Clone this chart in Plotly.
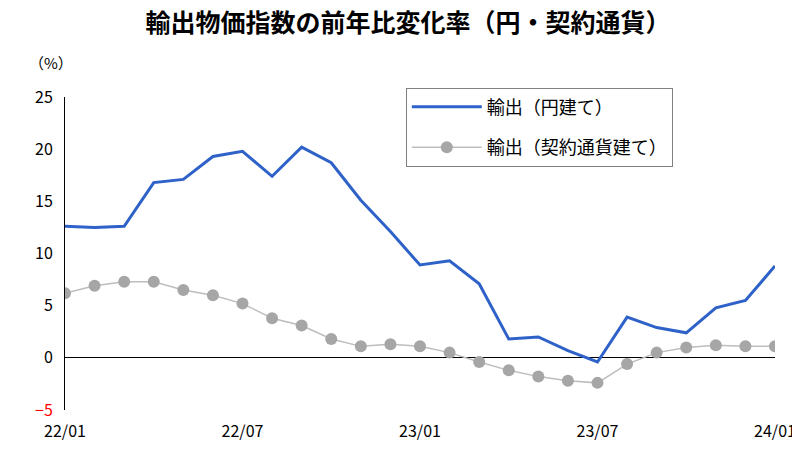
import plotly.graph_objects as go

months = list(range(25))
tick_pos = [0, 6, 12, 18, 24]
tick_text = ["22/01", "22/07", "23/01", "23/07", "24/01"]
y_ticks = [-5, 0, 5, 10, 15, 20, 25]
y_text = ["<span style='color:red'>−5</span>", "0", "5", "10", "15", "20", "25"]

yen_based = [12.6, 12.5, 12.6, 16.8, 17.1, 19.3, 19.8, 17.4, 20.2, 18.7, 15.1, 12.1,
             8.9, 9.3, 7.1, 1.8, 2.0, 0.7, -0.4, 3.9, 2.9, 2.4, 4.8, 5.5, 8.8]
contract_based = [6.2, 6.9, 7.3, 7.3, 6.5, 6.0, 5.2, 3.8, 3.1, 1.8, 1.1, 1.3,
                  1.1, 0.5, -0.4, -1.2, -1.8, -2.2, -2.4, -0.6, 0.5, 1.0, 1.2, 1.1, 1.1]

font = "Noto Sans CJK JP"

fig = go.Figure()
fig.add_trace(go.Scatter(x=months, y=yen_based, name="輸出（円建て）", mode="lines",
                         legendgroup="a", line=dict(color="#2f62c8", width=3)))
fig.add_trace(go.Scatter(x=months, y=contract_based, name="輸出（契約通貨建て）", mode="lines+markers",
                         legendgroup="b", line=dict(color="#bdbdbd", width=1.5),
                         marker=dict(color="#a6a6a6", size=12)))

fig.update_layout(
    width=800, height=450,
    margin=dict(l=57, r=30, t=89, b=48),
    paper_bgcolor="white", plot_bgcolor="white",
    font=dict(family=font, size=16, color="black"),
    title=dict(text="<b>輸出物価指数の前年比変化率（円・契約通貨）</b>", x=0.5, xanchor="center",
               y=0.985, yanchor="top", font=dict(size=25)),
    legend=dict(x=0.48, xanchor="left", y=1.03, yanchor="top", bordercolor="#808080", borderwidth=1,
                bgcolor="white", font=dict(size=18), tracegroupgap=14, itemwidth=70),
    xaxis=dict(range=[0, 24], tickvals=tick_pos, ticktext=tick_text, showgrid=False,
               zeroline=False, showline=False, tickfont=dict(size=16), ticklabelstandoff=10),
    yaxis=dict(range=[-5, 25], tickvals=y_ticks, ticktext=y_text, showgrid=False, zeroline=True,
               zerolinecolor="black", zerolinewidth=1, showline=True, linecolor="black",
               ticks="", ticklabelstandoff=8, tickfont=dict(size=16)),
    annotations=[dict(text="（%）", x=-0.02, xref="paper", xanchor="center", y=1.07, yref="paper",
                      yanchor="bottom", showarrow=False, font=dict(size=15))],
)
fig.write_html("out.html")
